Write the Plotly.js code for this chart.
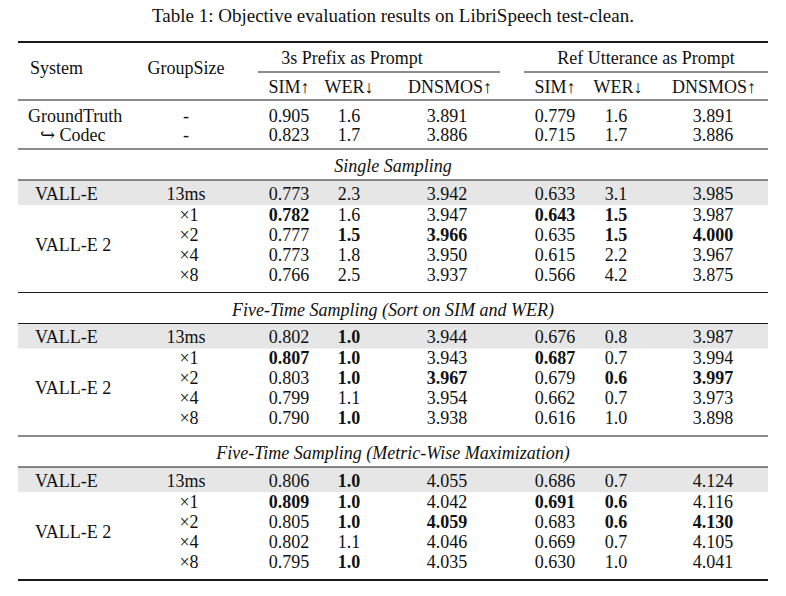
<!DOCTYPE html>
<html><head><meta charset="utf-8">
<script src="https://cdn.plot.ly/plotly-3.0.1.min.js"></script>
<style>html,body{margin:0;padding:0;background:#fff}</style>
</head><body><div id="chart" style="width:786px;height:596px"></div>
<script>
// ---------------- DATA ----------------
const tableTitle = "Table 1: Objective evaluation results on LibriSpeech test-clean.";
const headerSystem = "System";
const headerGroup = "GroupSize";
const promptGroups = ["3s Prefix as Prompt", "Ref Utterance as Prompt"];
const metricNames = ["SIM↑", "WER↓", "DNSMOS↑"];
const metricGoal = ["max", "min", "max"];
const metricDecimals = [3, 1, 3];

const referenceSystems = ["GroundTruth", "↪ Codec"];
const referenceGroups = ["-", "-"];
const referenceValues = [
  [0.905, 1.6, 3.891, 0.779, 1.6, 3.891],
  [0.823, 1.7, 3.886, 0.715, 1.7, 3.886]
];

const sectionNames = [
  "Single Sampling",
  "Five-Time Sampling (Sort on SIM and WER)",
  "Five-Time Sampling (Metric-Wise Maximization)"
];
const baselineName = "VALL-E";
const baselineGroup = "13ms";
const proposedName = "VALL-E 2";
const groupSizes = ["×1", "×2", "×4", "×8"];

const baselineValues = [
  [0.773, 2.3, 3.942, 0.633, 3.1, 3.985],
  [0.802, 1.0, 3.944, 0.676, 0.8, 3.987],
  [0.806, 1.0, 4.055, 0.686, 0.7, 4.124]
];
const singleSampling = [
  [0.782, 1.6, 3.947, 0.643, 1.5, 3.987],
  [0.777, 1.5, 3.966, 0.635, 1.5, 4.000],
  [0.773, 1.8, 3.950, 0.615, 2.2, 3.967],
  [0.766, 2.5, 3.937, 0.566, 4.2, 3.875]
];
const sortSampling = [
  [0.807, 1.0, 3.943, 0.687, 0.7, 3.994],
  [0.803, 1.0, 3.967, 0.679, 0.6, 3.997],
  [0.799, 1.1, 3.954, 0.662, 0.7, 3.973],
  [0.790, 1.0, 3.938, 0.616, 1.0, 3.898]
];
const metricSampling = [
  [0.809, 1.0, 4.042, 0.691, 0.6, 4.116],
  [0.805, 1.0, 4.059, 0.683, 0.6, 4.130],
  [0.802, 1.1, 4.046, 0.669, 0.7, 4.105],
  [0.795, 1.0, 4.035, 0.630, 1.0, 4.041]
];
const proposedValues = [singleSampling, sortSampling, metricSampling];

// ---------------- LAYOUT (positions / styles) ----------------
const W = 786, H = 596;
const FONT = "Liberation Serif, Times New Roman, DejaVu Serif, serif";
const FS = 18;
const TY = 2; // text baseline nudge
const tableLeft = 18, tableRight = 768, tableCenter = 393;
const valueX = [289, 349, 447, 555, 616, 713];
const metricX = [289, 349, 450, 555, 618, 714];
const groupX = [352, 646];
const groupRule = [[258, 500], [524, 768]];
const systemX = 30, systemIndentX = 40, modelX = 35;
const groupCenterX = 186, groupSizeX = 189;
const titleY = 15;
const topRuleY = 42, spanY = 57, sysHeaderY = 67, partialRuleY = 72, metricY = 86, midRuleY = 100;
const refRowY = [115, 134];
const sectionStart = [149, 292.5, 436];
const finalRuleY = 580;

const centerT = {x: [], y: [], t: []};
const leftT = {x: [], y: [], t: []};
const shapes = [];
function ct(x, y, t) { centerT.x.push(x); centerT.y.push(y + TY); centerT.t.push(t); }
function lt(x, y, t) { leftT.x.push(x); leftT.y.push(y + TY); leftT.t.push(t); }
function rule(y, x0, x1, w) {
  shapes.push({type: "line", xref: "x", yref: "y", x0: x0, x1: x1, y0: y, y1: y,
               line: {color: "#1a1a1a", width: w}});
}
function band(y0, y1) {
  shapes.push({type: "rect", xref: "x", yref: "y", x0: tableLeft, x1: tableRight, y0: y0, y1: y1,
               fillcolor: "#e6e6e6", line: {width: 0}, layer: "below"});
}
function fmt(v, j) { return v.toFixed(metricDecimals[j % 3]); }

// header
rule(topRuleY, tableLeft, tableRight, 1.8);
lt(systemX, sysHeaderY, headerSystem);
ct(groupCenterX, sysHeaderY, headerGroup);
promptGroups.forEach((g, i) => {
  ct(groupX[i], spanY, g);
  rule(partialRuleY, groupRule[i][0], groupRule[i][1], 1.1);
  metricNames.forEach((m, j) => ct(metricX[i * 3 + j], metricY, m));
});
rule(midRuleY, tableLeft, tableRight, 1.1);

// reference rows
referenceSystems.forEach((s, r) => {
  lt(r === 0 ? systemX - 2 : systemIndentX, refRowY[r], s);
  ct(groupCenterX, refRowY[r], referenceGroups[r]);
  referenceValues[r].forEach((v, j) => ct(valueX[j], refRowY[r], fmt(v, j)));
});

// sections
sectionNames.forEach((name, k) => {
  const R = sectionStart[k];
  rule(R, tableLeft, tableRight, 1.1);
  ct(tableCenter, R + 16.5, "<i>" + name + "</i>");
  rule(R + 31, tableLeft, tableRight, 1.1);
  band(R + 31, R + 56);
  const rows = [baselineValues[k]].concat(proposedValues[k]);
  const best = metricGoal.concat(metricGoal).map((goal, j) => {
    const col = rows.map(r => r[j]);
    return goal === "max" ? Math.max(...col) : Math.min(...col);
  });
  const rowYs = [R + 44].concat(groupSizes.map((g, i) => R + 65 + 20 * i));
  lt(modelX, rowYs[0], baselineName);
  ct(groupCenterX, rowYs[0], baselineGroup);
  lt(modelX, (rowYs[2] + rowYs[3]) / 2, proposedName);
  groupSizes.forEach((g, i) => ct(groupSizeX, rowYs[i + 1], g));
  rows.forEach((row, r) => {
    row.forEach((v, j) => {
      const s = fmt(v, j);
      ct(valueX[j], rowYs[r], v === best[j] ? "<b>" + s + "</b>" : s);
    });
  });
});
rule(finalRuleY, tableLeft, tableRight, 1.8);

const traces = [
  {type: "scatter", mode: "text", x: [tableCenter], y: [titleY + TY], text: [tableTitle],
   textposition: "middle center", hoverinfo: "skip", showlegend: false,
   textfont: {family: FONT, size: 19, color: "#111"}},
  {type: "scatter", mode: "text", x: centerT.x, y: centerT.y, text: centerT.t,
   textposition: "middle center", hoverinfo: "skip", showlegend: false,
   textfont: {family: FONT, size: FS, color: "#111"}},
  {type: "scatter", mode: "text", x: leftT.x, y: leftT.y, text: leftT.t,
   textposition: "middle right", hoverinfo: "skip", showlegend: false,
   textfont: {family: FONT, size: FS, color: "#111"}}
];

const layout = {
  width: W, height: H,
  margin: {l: 0, r: 0, t: 0, b: 0, pad: 0},
  paper_bgcolor: "#fff", plot_bgcolor: "#fff",
  xaxis: {range: [0, W], visible: false, fixedrange: true},
  yaxis: {range: [H, 0], visible: false, fixedrange: true},
  shapes: shapes,
  showlegend: false
};
Plotly.newPlot("chart", traces, layout, {staticPlot: true, displayModeBar: false});
</script>
</body></html>
